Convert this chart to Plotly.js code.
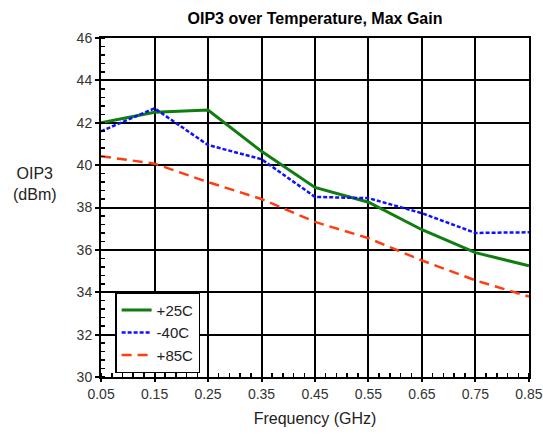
<!DOCTYPE html>
<html><head><meta charset="utf-8">
<script src="https://cdn.plot.ly/plotly-3.0.1.min.js"></script>
<style>html,body{margin:0;padding:0;background:#fff}#chart{width:543px;height:434px}</style>
</head><body><div id="chart"></div>
<script>
const freq = [0.05, 0.15, 0.25, 0.35, 0.45, 0.55, 0.65, 0.75, 0.85];
const oip3_p25 = [42.0, 42.5, 42.6, 40.65, 38.95, 38.25, 36.95, 35.87, 35.25];
const oip3_m40 = [41.6, 42.68, 40.95, 40.28, 38.5, 38.44, 37.73, 36.8, 36.83];
const oip3_p85 = [40.42, 40.07, 39.2, 38.4, 37.32, 36.55, 35.5, 34.56, 33.8];
const seriesNames = ['+25C', '-40C', '+85C'];
const xTicks = [0.05, 0.15, 0.25, 0.35, 0.45, 0.55, 0.65, 0.75, 0.85];
const yTicks = [30, 32, 34, 36, 38, 40, 42, 44, 46];

const FONT = '"Liberation Sans", Arial, sans-serif';

const traces = [
  {x: freq, y: oip3_p25, name: seriesNames[0], mode: 'lines', line: {color: '#0f7d0f', width: 3}},
  {x: freq, y: oip3_m40, name: seriesNames[1], mode: 'lines', line: {color: '#1010ff', width: 2.5, dash: '4px,2px'}},
  {x: freq, y: oip3_p85, name: seriesNames[2], mode: 'lines', line: {color: '#ff3d10', width: 2.5, dash: '10px,6px'}}
];

const layout = {
  width: 543, height: 434,
  margin: {l: 101, r: 14, t: 38, b: 57},
  paper_bgcolor: '#fff', plot_bgcolor: '#fff',
  font: {family: FONT, size: 14, color: '#222'},
  title: {text: '<b>OIP3 over Temperature, Max Gain</b>', x: 0.5 + (101-14)/2/543, xanchor: 'center', y: 0.958, yanchor: 'middle', font: {family: FONT, size: 16, color: '#000'}},
  xaxis: {
    range: [0.0499, 0.8501], tickvals: xTicks, ticktext: xTicks.map(v => v.toFixed(2)),
    showgrid: true, gridcolor: '#000', gridwidth: 2,
    showline: true, linecolor: '#000', linewidth: 2, mirror: true,
    ticks: 'outside', ticklen: 3, tickcolor: '#000', tickwidth: 2,
    minor: {dtick: 0.02, tick0: 0.05, ticks: 'inside', ticklen: 4, tickcolor: '#000', tickwidth: 1.5, showgrid: false},
    zeroline: false, tickfont: {size: 14, color: '#333'},
    title: {text: 'Frequency (GHz)', standoff: 12, font: {size: 16, color: '#222'}}
  },
  yaxis: {
    range: [30, 46], tickvals: yTicks,
    showgrid: true, gridcolor: '#000', gridwidth: 2,
    showline: true, linecolor: '#000', linewidth: 2, mirror: true,
    ticks: 'outside', ticklen: 4, tickcolor: '#000', tickwidth: 2,
    minor: {dtick: 0.4, tick0: 30, ticks: 'inside', ticklen: 4, tickcolor: '#000', tickwidth: 1.5, showgrid: false},
    zeroline: false, tickfont: {size: 14, color: '#333'}
  },
  showlegend: true,
  legend: {x: 0.033, y: 0.25, xanchor: 'left', yanchor: 'top', bgcolor: '#fff', bordercolor: '#000', borderwidth: 1.5,
    font: {size: 15, color: '#222'}, tracegroupgap: 0, itemwidth: 30},
  annotations: [
    {text: 'OIP3<br>(dBm)', xref: 'paper', yref: 'paper', x: -0.155, y: 0.57, xanchor: 'center', yanchor: 'middle',
     showarrow: false, font: {size: 16, color: '#222'}}
  ]
};

Plotly.newPlot('chart', traces, layout, {displayModeBar: false, staticPlot: true});
</script></body></html>
